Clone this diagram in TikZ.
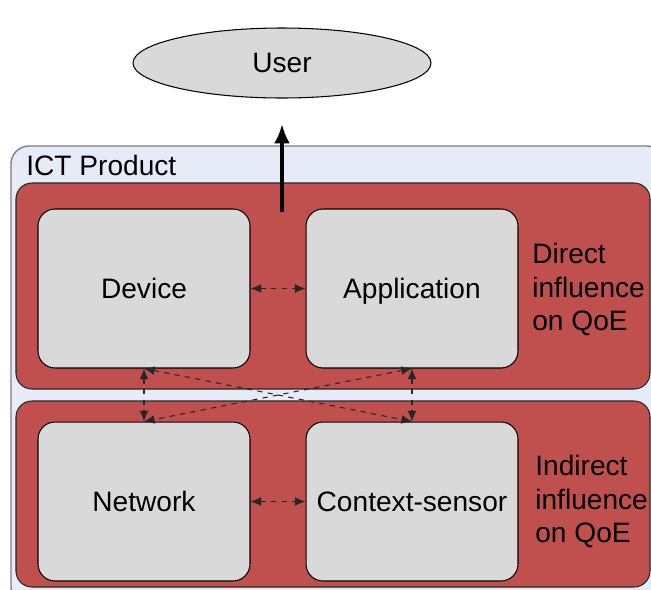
\documentclass[tikz,border=0pt]{standalone}
\usepackage{fontspec}
\setmainfont{Liberation Sans}
\usetikzlibrary{arrows.meta,shapes.geometric}
\definecolor{ictblue}{RGB}{230,236,247}
\definecolor{layerred}{RGB}{192,80,77}
\definecolor{compgray}{RGB}{217,217,217}
\tikzset{
  comp/.style={draw=black, line width=0.6pt, fill=compgray, rounded corners=0.34cm,
    minimum width=4.24cm, minimum height=3.18cm, inner sep=0pt, text height=11.5pt, text depth=0pt},
  layer/.style={draw=black!85, line width=0.6pt, fill=layerred, rounded corners=0.32cm},
  link/.style={dashed, line width=0.6pt, black!85, {Latex[length=6pt,width=5pt]}-{Latex[length=6pt,width=5pt]}},
}
\begin{document}
\begin{tikzpicture}[x=0.02cm, y=-0.02cm, font=\fontsize{16}{19}\selectfont]
\useasboundingbox (0,0) rectangle (651,589);
% ICT product frame
\draw[draw=black!50, line width=0.8pt, fill=ictblue, rounded corners=0.36cm] (11,146) rectangle (665,605);
\node[anchor=west, inner sep=0pt] (ict) at (26,165) {ICT Product};
% layers
\draw[layer] (16,183) rectangle (650,389);
\draw[layer] (16,401) rectangle (650,587);
% components
\node[comp] (device) at (144,288.5) {Device};
\node[comp] (app) at (412,288.5) {Application};
\node[comp] (net) at (144,501.5) {Network};
\node[comp] (ctx) at (412,501.5) {Context-sensor};
\node[anchor=west, align=left, inner sep=0pt] (direct) at (532,289.5) {Direct\\influence\\on QoE};
\node[anchor=west, align=left, inner sep=0pt] (indirect) at (535,501.5) {Indirect\\influence\\on QoE};
% user
\node[draw=black, line width=0.6pt, fill=compgray, ellipse, minimum width=5.96cm, minimum height=1.4cm] (user) at (282,63) {User};
\coordinate (out) at (282,212);
\draw[line width=2.2pt, -{Latex[length=11pt,width=9pt]}] (out) -- (282,124);
% links
\draw[link] (device) -- (app);
\draw[link] (net) -- (ctx);
\draw[link] (device.south) -- (net.north);
\draw[link] (app.south) -- (ctx.north);
\draw[link] (device.south) -- (ctx.north);
\draw[link] (app.south) -- (net.north);
\end{tikzpicture}
\end{document}
